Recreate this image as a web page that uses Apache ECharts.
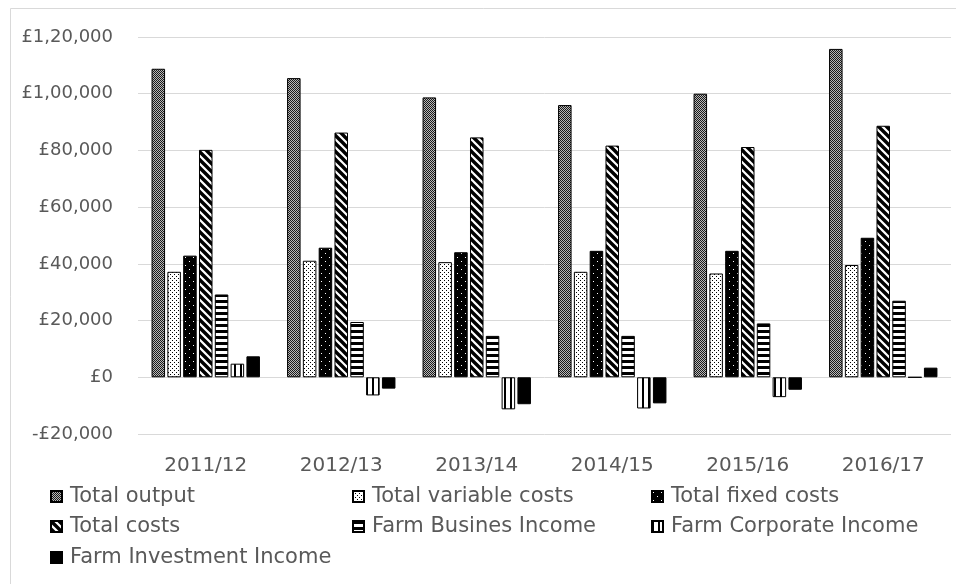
<!DOCTYPE html>
<html>
<head>
<meta charset="utf-8">
<script src="https://cdn.jsdelivr.net/npm/echarts@6/dist/echarts.min.js"></script>
<style>
  html, body { margin: 0; padding: 0; background: #fff; }
  #main { width: 956px; height: 584px; }
</style>
</head>
<body>
<div id="main"></div>
<script>
// data
var years = ['2011/12', '2012/13', '2013/14', '2014/15', '2015/16', '2016/17'];
var totalOutput = [108800, 105500, 98700, 96000, 100000, 115800];
var totalVariableCosts = [37200, 41100, 40600, 37200, 36600, 39600];
var totalFixedCosts = [42900, 45700, 44100, 44600, 44600, 49200];
var totalCosts = [80200, 86300, 84600, 81700, 81200, 88700];
var farmBusinessIncome = [29200, 19500, 14600, 14600, 19000, 27000];
var farmCorporateIncome = [4800, -6400, -11300, -11000, -7000, 0];
var farmInvestmentIncome = [7400, -4000, -9500, -9200, -4400, 3400];
var yTicks = { min: -20000, max: 120000, step: 20000 };

// little canvas tiles for the hatch fills
function tile(w, h, draw) {
    var c = document.createElement('canvas');
    c.width = w; c.height = h;
    var ctx = c.getContext('2d');
    draw(ctx);
    return { image: c, repeat: 'repeat' };
}

var fillOutput = tile(2, 2, function (ctx) {
    ctx.fillStyle = '#b8b8b8'; ctx.fillRect(0, 0, 2, 2);
    ctx.fillStyle = '#1a1a1a'; ctx.fillRect(0, 0, 1, 1); ctx.fillRect(1, 1, 1, 1);
});
var fillVariable = tile(4, 4, function (ctx) {
    ctx.fillStyle = '#fff'; ctx.fillRect(0, 0, 4, 4);
    ctx.fillStyle = '#000'; ctx.fillRect(0, 0, 1, 1); ctx.fillRect(2, 2, 1, 1);
});
var fillFixed = tile(8, 8, function (ctx) {
    ctx.fillStyle = '#000'; ctx.fillRect(0, 0, 8, 8);
    ctx.fillStyle = '#fff'; ctx.fillRect(1, 1, 1, 1); ctx.fillRect(5, 5, 1, 1);
});
var fillCosts = tile(8, 8, function (ctx) {
    ctx.fillStyle = '#fff'; ctx.fillRect(0, 0, 8, 8);
    ctx.strokeStyle = '#000'; ctx.lineWidth = 3.4;
    ctx.beginPath();
    ctx.moveTo(-2, -2); ctx.lineTo(10, 10);
    ctx.moveTo(-6, 2); ctx.lineTo(2, 10);
    ctx.moveTo(6, -2); ctx.lineTo(14, 6);
    ctx.stroke();
});
var fillBusiness = tile(6, 6, function (ctx) {
    ctx.fillStyle = '#fff'; ctx.fillRect(0, 0, 6, 6);
    ctx.fillStyle = '#000'; ctx.fillRect(0, 0, 6, 3);
});
var fillCorporate = tile(6, 6, function (ctx) {
    ctx.fillStyle = '#fff'; ctx.fillRect(0, 0, 6, 6);
    ctx.fillStyle = '#000'; ctx.fillRect(0, 0, 2, 6);
});

function gbp(v) {
    var s = Math.abs(v).toString();
    var last3 = s.slice(-3);
    var rest = s.slice(0, -3);
    if (rest) last3 = ',' + last3;
    rest = rest.replace(/\B(?=(\d{2})+(?!\d))/g, ',');
    return (v < 0 ? '-' : '') + '£' + rest + last3;
}

var seriesList = [
    { name: 'Total output', data: totalOutput, fill: fillOutput },
    { name: 'Total variable costs', data: totalVariableCosts, fill: fillVariable },
    { name: 'Total fixed costs', data: totalFixedCosts, fill: fillFixed },
    { name: 'Total costs', data: totalCosts, fill: fillCosts },
    { name: 'Farm Busines Income', data: farmBusinessIncome, fill: fillBusiness },
    { name: 'Farm Corporate Income', data: farmCorporateIncome, fill: fillCorporate },
    { name: 'Farm Investment Income', data: farmInvestmentIncome, fill: '#000' }
];

// legend laid out as 3 columns like the original
var legendCols = [50, 352, 651];
var legendRows = [486, 516, 547];
var legends = seriesList.map(function (s, i) {
    return {
        data: [s.name],
        left: legendCols[i % 3],
        top: legendRows[Math.floor(i / 3)],
        itemWidth: 11,
        itemHeight: 11,
        padding: 0,
        icon: 'rect',
        textStyle: {
            color: '#595959',
            fontFamily: 'DejaVu Sans',
            fontSize: 21,
            padding: [0, 0, 0, 3]
        }
    };
});

var chart = echarts.init(document.getElementById('main'));
var option = {
    animation: false,
    backgroundColor: '#fff',
    graphic: [{
        type: 'rect',
        shape: { x: 10.5, y: 8.5, width: 960, height: 600 },
        style: { fill: 'none', stroke: '#d9d9d9', lineWidth: 1 },
        silent: true
    }],
    legend: legends,
    grid: { left: 138, right: 5, top: 37, bottom: 150 },
    xAxis: {
        type: 'category',
        data: years,
        axisLine: { show: false, onZero: false },
        axisTick: { show: false },
        axisLabel: {
            color: '#595959',
            fontFamily: 'DejaVu Sans',
            fontSize: 20,
            margin: 22
        }
    },
    yAxis: {
        type: 'value',
        min: yTicks.min,
        max: yTicks.max,
        interval: yTicks.step,
        axisLine: { show: false },
        axisTick: { show: false },
        splitLine: { lineStyle: { color: '#d9d9d9', width: 1 } },
        axisLabel: {
            color: '#595959',
            fontFamily: 'DejaVu Sans',
            fontSize: 18,
            margin: 25,
            formatter: gbp
        }
    },
    series: seriesList.map(function (s) {
        return {
            name: s.name,
            type: 'bar',
            data: s.data,
            barGap: '17%',
            barCategoryGap: '20%',
            itemStyle: { color: s.fill, borderColor: '#000', borderWidth: 1 }
        };
    })
};
chart.setOption(option);
</script>
</body>
</html>
